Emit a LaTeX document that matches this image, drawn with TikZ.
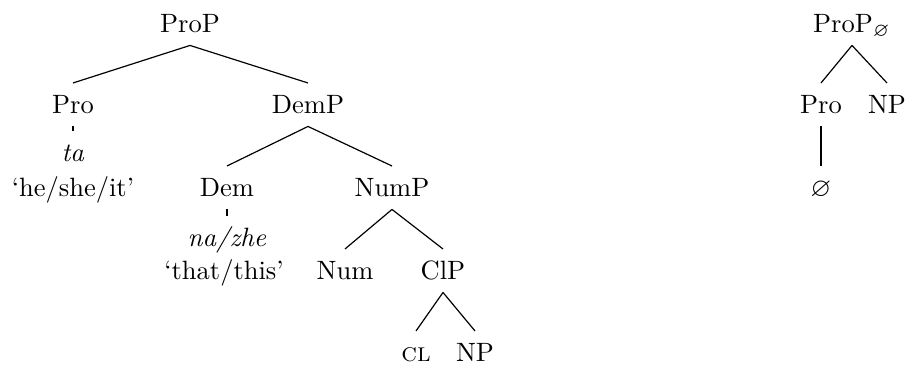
\documentclass[tikz,border=0pt]{standalone}
\usepackage{amssymb}
\usepackage{tikz}
\tikzstyle{category}=[anchor=base,inner sep=0pt,text height=11.5pt,text depth=4.5pt]
\tikzstyle{gloss}=[anchor=base,inner sep=0pt]
\tikzstyle{branch}=[line width=0.45pt]

\begin{document}
\begin{tikzpicture}[x=0.3774pt,y=-0.3774pt]
\useasboundingbox (0,0) rectangle (907,365);

% left tree
\node[category] (ProP) at (190,33) {ProP};
\node[category] (Pro) at (73,114) {Pro};
\node[category] (DemP) at (308,114) {DemP};
\node[category] (Ta) at (73,162) {\textit{ta}};
\node[gloss] (TaGloss) at (73,197) {`he/she/it'};
\node[category] (Dem) at (227,197) {Dem};
\node[category] (NumP) at (392,197) {NumP};
\node[category] (NaZhe) at (227,247) {\textit{na/zhe}};
\node[gloss] (NaZheGloss) at (224,280) {`that/this'};
\node[category] (Num) at (345,280) {Num};
\node[category] (ClP) at (443,280) {ClP};
\node[category] (Cl) at (416,362) {\textsc{cl}};
\node[category] (NP) at (475,362) {NP};

% right tree
\node[category] (ProPnull) at (852,33) {ProP$_\varnothing$};
\node[category] (Pronull) at (821,114) {Pro};
\node[category] (NPnull) at (887,114) {NP};
\node[category] (Null) at (821,197) {$\varnothing$};

\draw[branch] (ProP.south) -- (Pro.north);
\draw[branch] (ProP.south) -- (DemP.north);
\draw[branch] (Pro.south) -- (Ta.north);
\draw[branch] (DemP.south) -- (Dem.north);
\draw[branch] (DemP.south) -- (NumP.north);
\draw[branch] (Dem.south) -- (NaZhe.north);
\draw[branch] (NumP.south) -- (Num.north);
\draw[branch] (NumP.south) -- (ClP.north);
\draw[branch] (ClP.south) -- (Cl.north);
\draw[branch] (ClP.south) -- (NP.north);

\draw[branch] (ProPnull.south) -- (Pronull.north);
\draw[branch] (ProPnull.south) -- (NPnull.north);
\draw[branch] (Pronull.south) -- (Null.north);

\end{tikzpicture}
\end{document}
